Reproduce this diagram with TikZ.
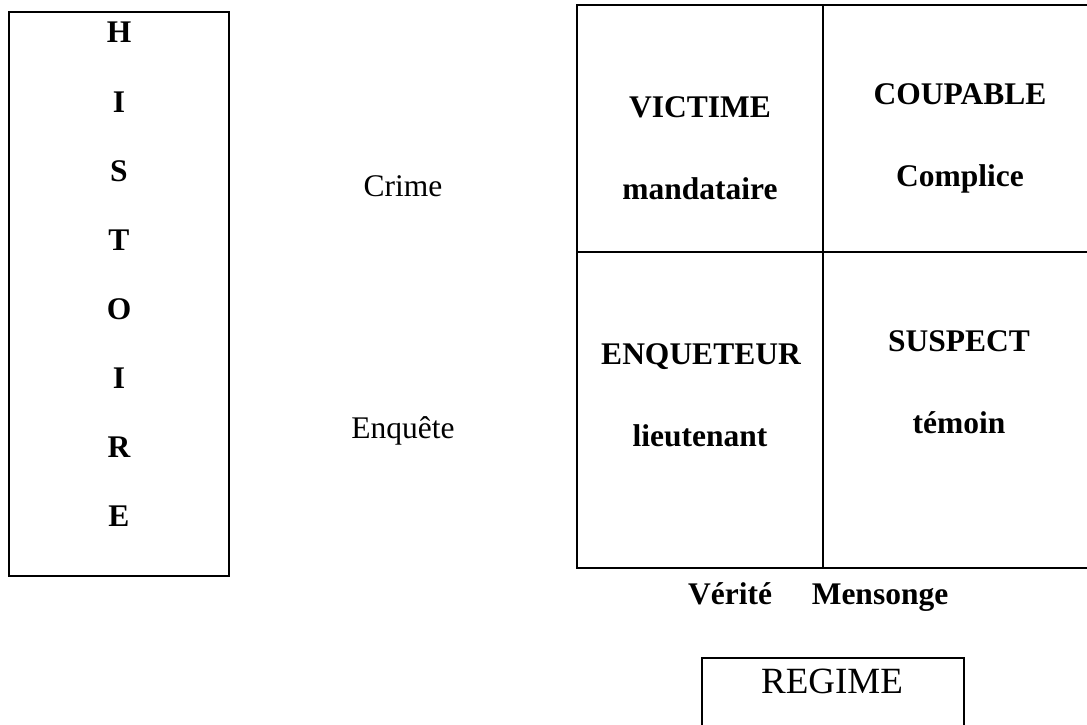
\documentclass[tikz,border=0pt]{standalone}
\usepackage{fontspec}
\setmainfont{Liberation Serif}
\begin{document}
\begin{tikzpicture}[x=1pt,y=-1pt,
  frame/.style={line width=2.1pt,draw=black},
  bigb/.style={anchor=base,inner sep=0pt,font=\fontsize{31.5}{38}\selectfont\bfseries},
  bigr/.style={anchor=base,inner sep=0pt,font=\fontsize{31.5}{38}\selectfont},
  regime/.style={anchor=base,inner sep=0pt,font=\fontsize{37}{44}\selectfont}]
\useasboundingbox[fill=white] (0,0) rectangle (1087,725);
% HISTOIRE box
\draw[frame] (9,12) rectangle (229,576);
\foreach \l/\y/\n in {H/43/h1,I/112/h2,S/181/h3,T/250/h4,O/319/h5,I/388/h6,R/457/h7,E/526/h8}
  \node[bigb] (\n) at (119,\y) {\l};
% middle labels
\node[bigr] (crime) at (403,196) {Crime};
\node[bigr] (enquete) at (403,438) {Enquête};
% grid
\draw[frame] (1090,5) -- (577,5) -- (577,568) -- (1090,568);
\draw[frame] (823,5) -- (823,568);
\draw[frame] (577,252) -- (1090,252);
\node[bigb] (victime) at (700,117) {VICTIME};
\node[bigb] (mandataire) at (700,199) {mandataire};
\node[bigb] (coupable) at (960,104) {COUPABLE};
\node[bigb] (complice) at (960,186) {Complice};
\node[bigb] (enqueteur) at (701,364) {ENQUETEUR};
\node[bigb] (lieutenant) at (700,446) {lieutenant};
\node[bigb] (suspect) at (959,351) {SUSPECT};
\node[bigb] (temoin) at (959,433) {témoin};
\node[bigb] (verite) at (730,604) {Vérité};
\node[bigb] (mensonge) at (880,604) {Mensonge};
% REGIME box
\draw[frame] (702,730) -- (702,658) -- (964,658) -- (964,730);
\node[regime] (regimetxt) at (832,693) {REGIME};
\end{tikzpicture}
\end{document}
